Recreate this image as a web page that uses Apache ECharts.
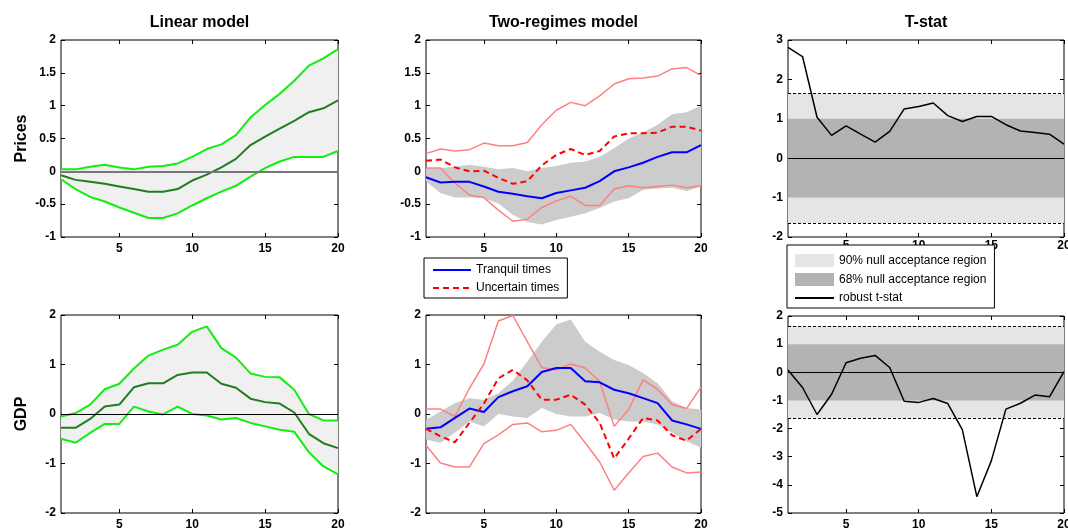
<!DOCTYPE html>
<html>
<head>
<meta charset="utf-8">
<script src="https://cdn.jsdelivr.net/npm/echarts@6/dist/echarts.min.js"></script>
<style>
  html, body { margin: 0; padding: 0; background: #fff; }
  #chart { width: 1068px; height: 529px; }
</style>
</head>
<body>
<div id="chart"></div>
<script>
// horizon (x axis categories)
const steps = [1, 2, 3, 4, 5, 6, 7, 8, 9, 10, 11, 12, 13, 14, 15, 16, 17, 18, 19, 20];
const xTicks = [5, 10, 15, 20];

// Prices - linear model
const priceLinLow  = [-0.12, -0.27, -0.39, -0.46, -0.55, -0.63, -0.71, -0.71, -0.64, -0.52, -0.41, -0.31, -0.22, -0.08, 0.05, 0.15, 0.22, 0.22, 0.22, 0.31];
const priceLinMid  = [-0.06, -0.13, -0.16, -0.19, -0.23, -0.27, -0.31, -0.31, -0.27, -0.14, -0.05, 0.06, 0.19, 0.40, 0.53, 0.65, 0.77, 0.90, 0.96, 1.08];
const priceLinHigh = [0.03, 0.03, 0.07, 0.10, 0.06, 0.03, 0.07, 0.08, 0.12, 0.22, 0.34, 0.41, 0.55, 0.82, 1.01, 1.18, 1.38, 1.61, 1.72, 1.86];

// Prices - two regimes
const priceTranquil  = [-0.09, -0.17, -0.16, -0.16, -0.23, -0.31, -0.34, -0.38, -0.41, -0.33, -0.29, -0.25, -0.15, 0.00, 0.06, 0.13, 0.22, 0.29, 0.29, 0.40];
const priceTranqLow  = [-0.15, -0.33, -0.40, -0.40, -0.41, -0.49, -0.66, -0.77, -0.81, -0.74, -0.69, -0.64, -0.56, -0.46, -0.41, -0.28, -0.26, -0.25, -0.30, -0.23];
const priceTranqHigh = [0.05, 0.05, 0.07, 0.10, 0.07, 0.03, 0.05, 0.00, 0.05, 0.08, 0.13, 0.15, 0.22, 0.35, 0.50, 0.59, 0.71, 0.87, 0.90, 1.00];
const priceUncertain = [0.16, 0.18, 0.06, 0.00, 0.01, -0.10, -0.19, -0.15, 0.09, 0.25, 0.34, 0.25, 0.31, 0.53, 0.58, 0.58, 0.59, 0.68, 0.68, 0.62];
const priceUncLow    = [0.05, 0.05, -0.18, -0.36, -0.40, -0.59, -0.76, -0.73, -0.55, -0.45, -0.38, -0.52, -0.52, -0.27, -0.22, -0.25, -0.23, -0.21, -0.25, -0.22];
const priceUncHigh   = [0.27, 0.34, 0.31, 0.33, 0.43, 0.39, 0.39, 0.44, 0.71, 0.93, 1.05, 1.00, 1.15, 1.33, 1.41, 1.42, 1.45, 1.56, 1.58, 1.46];
const priceTstat     = [2.81, 2.58, 1.04, 0.58, 0.82, 0.61, 0.41, 0.68, 1.25, 1.31, 1.40, 1.08, 0.93, 1.06, 1.06, 0.85, 0.69, 0.65, 0.61, 0.36];

// GDP - linear model
const gdpLinLow  = [-0.50, -0.58, -0.38, -0.20, -0.20, 0.15, 0.05, -0.01, 0.15, 0.00, -0.03, -0.11, -0.08, -0.18, -0.25, -0.32, -0.36, -0.77, -1.06, -1.22];
const gdpLinMid  = [-0.28, -0.28, -0.10, 0.15, 0.19, 0.54, 0.62, 0.62, 0.79, 0.84, 0.84, 0.61, 0.53, 0.31, 0.24, 0.21, 0.03, -0.40, -0.59, -0.69];
const gdpLinHigh = [-0.05, 0.02, 0.19, 0.50, 0.61, 0.92, 1.18, 1.30, 1.40, 1.66, 1.77, 1.33, 1.14, 0.82, 0.75, 0.74, 0.49, 0.00, -0.13, -0.13];

// GDP - two regimes
const gdpTranquil  = [-0.30, -0.27, -0.08, 0.11, 0.04, 0.34, 0.46, 0.56, 0.85, 0.93, 0.93, 0.66, 0.64, 0.49, 0.42, 0.32, 0.22, -0.13, -0.21, -0.30];
const gdpTranqLow  = [-0.52, -0.58, -0.38, -0.15, -0.25, 0.00, -0.05, -0.08, 0.12, 0.00, -0.05, -0.05, 0.02, -0.11, -0.15, -0.15, -0.21, -0.38, -0.55, -0.68];
const gdpTranqHigh = [-0.12, 0.05, 0.22, 0.32, 0.29, 0.42, 0.67, 1.06, 1.46, 1.81, 1.91, 1.46, 1.26, 1.09, 0.99, 0.83, 0.62, 0.26, 0.12, 0.09];
const gdpUncertain = [-0.30, -0.45, -0.57, -0.18, 0.21, 0.72, 0.89, 0.68, 0.29, 0.29, 0.39, 0.19, -0.18, -0.90, -0.50, -0.08, -0.13, -0.43, -0.54, -0.30];
const gdpUncLow    = [-0.63, -0.99, -1.07, -1.07, -0.60, -0.42, -0.21, -0.18, -0.36, -0.33, -0.21, -0.58, -0.97, -1.54, -1.19, -0.86, -0.79, -1.07, -1.19, -1.17];
const gdpUncHigh   = [0.10, 0.10, -0.05, 0.52, 1.01, 1.88, 1.99, 1.46, 0.94, 0.89, 1.01, 0.93, 0.66, -0.25, 0.09, 0.69, 0.50, 0.19, 0.11, 0.54];
const gdpTstat     = [0.08, -0.54, -1.50, -0.78, 0.34, 0.50, 0.60, 0.17, -1.03, -1.07, -0.93, -1.11, -2.04, -4.42, -3.14, -1.31, -1.10, -0.81, -0.87, 0.02];

// null acceptance regions for the t-stat
const nullBand90 = [-1.645, 1.645];
const nullBand68 = [-1, 1];

const titles = ['Linear model', 'Two-regimes model', 'T-stat'];
const rowNames = ['Prices', 'GDP'];

const FONT = 'Liberation Sans, Arial, sans-serif';

// plot boxes (px)
const boxes = [
  { left: 61,  top: 40,  width: 277, height: 197 },
  { left: 426, top: 40,  width: 275, height: 197 },
  { left: 788, top: 40,  width: 276, height: 197 },
  { left: 61,  top: 315, width: 277, height: 198 },
  { left: 426, top: 315, width: 275, height: 198 },
  { left: 788, top: 316, width: 276, height: 197 }
];
const yRanges = [[-1, 2, 0.5], [-1, 2, 0.5], [-2, 3, 1], [-2, 2, 1], [-2, 2, 1], [-5, 2, 1]];

const isTick = (idx) => xTicks.indexOf(steps[idx]) >= 0;

const grid = [], xAxis = [], yAxis = [], series = [];

boxes.forEach((b, i) => {
  grid.push(Object.assign({
    show: true, borderColor: '#000', borderWidth: 1, backgroundColor: 'transparent',
    containLabel: false, outerBoundsMode: 'none'
  }, b));
  ['bottom', 'top'].forEach((pos) => {
    xAxis.push({
      type: 'category', gridIndex: i, position: pos, data: steps, boundaryGap: false,
      axisLine: { show: false, onZero: false },
      axisTick: { show: true, inside: true, length: 4, interval: (idx) => isTick(idx), lineStyle: { color: '#000' } },
      axisLabel: { show: pos === 'bottom', interval: (idx) => isTick(idx), margin: i === 2 ? 3 : 6,
        color: '#000', fontWeight: 'bold', fontSize: 12, fontFamily: FONT },
      splitLine: { show: false }
    });
  });
  const r = yRanges[i];
  ['left', 'right'].forEach((pos) => {
    const ax = {
      type: 'value', gridIndex: i, position: pos, min: r[0], max: r[1], interval: r[2],
      axisLine: { show: false, onZero: false },
      axisTick: { show: true, inside: true, length: 4, lineStyle: { color: '#000' } },
      axisLabel: { show: pos === 'left', margin: 5, color: '#000', fontWeight: 'bold', fontSize: 12, fontFamily: FONT },
      splitLine: { show: false }
    };
    if (pos === 'left' && i % 3 === 0) {
      ax.name = rowNames[i / 3];
      ax.nameLocation = 'middle';
      ax.nameGap = 31;
      ax.nameTextStyle = { color: '#000', fontSize: 16, fontWeight: 'bold', fontFamily: FONT };
    }
    yAxis.push(ax);
  });
});

function ax(i) { return { xAxisIndex: 2 * i, yAxisIndex: 2 * i }; }

function band(i, low, high, color) {
  const diff = high.map((h, k) => +(h - low[k]).toFixed(3));
  series.push(Object.assign({
    name: 'band-base-' + i, type: 'line', stack: 'band' + i, stackStrategy: 'all',
    data: low, symbol: 'none', silent: true, lineStyle: { opacity: 0 }
  }, ax(i)));
  series.push(Object.assign({
    name: 'band-' + i, type: 'line', stack: 'band' + i, stackStrategy: 'all',
    data: diff, symbol: 'none', silent: true, lineStyle: { opacity: 0 },
    areaStyle: { color: color, opacity: 1 }
  }, ax(i)));
}

function line(i, name, data, color, width, type, extra) {
  series.push(Object.assign({
    name: name, type: 'line', data: data, symbol: 'none', color: color,
    lineStyle: { color: color, width: width, type: type || 'solid' }
  }, ax(i), extra || {}));
}

function zeroLine(color, width) {
  return {
    markLine: {
      silent: true, symbol: ['none', 'none'], label: { show: false },
      lineStyle: { color: color, width: width, type: 'solid' },
      data: [{ yAxis: 0 }]
    }
  };
}

// linear model panels
[[0, priceLinLow, priceLinMid, priceLinHigh, '#777'], [3, gdpLinLow, gdpLinMid, gdpLinHigh, '#000']].forEach((p) => {
  const i = p[0];
  band(i, p[1], p[3], '#f0f0f0');
  line(i, 'lin-mid-' + i, p[2], '#1e7d1e', 2, 'solid', zeroLine(p[4], i === 0 ? 2 : 1));
  line(i, 'lin-low-' + i, p[1], '#11ee11', 2);
  line(i, 'lin-high-' + i, p[3], '#11ee11', 2);
});

// two-regimes panels
[[1, priceTranquil, priceTranqLow, priceTranqHigh, priceUncertain, priceUncLow, priceUncHigh],
 [4, gdpTranquil, gdpTranqLow, gdpTranqHigh, gdpUncertain, gdpUncLow, gdpUncHigh]].forEach((p) => {
  const i = p[0];
  band(i, p[2], p[3], '#cccccc');
  line(i, 'unc-low-' + i, p[5], '#ff8080', 1.5);
  line(i, 'unc-high-' + i, p[6], '#ff8080', 1.5);
  line(i, 'Tranquil times', p[1], '#0000ff', 2);
  line(i, 'Uncertain times', p[4], '#ff0000', 2, [6, 4]);
});

// t-stat panels
[[2, priceTstat], [5, gdpTstat]].forEach((p) => {
  const i = p[0];
  series.push(Object.assign({
    name: '90% null acceptance region', type: 'line', data: [], color: '#e5e5e5', symbol: 'none',
    markArea: { silent: true, itemStyle: { color: '#e5e5e5' }, data: [[{ yAxis: nullBand90[0] }, { yAxis: nullBand90[1] }]] },
    markLine: {
      silent: true, symbol: ['none', 'none'], label: { show: false },
      lineStyle: { color: '#000', width: 1, type: [3, 2] },
      data: [{ yAxis: nullBand90[0] }, { yAxis: nullBand90[1] }]
    }
  }, ax(i)));
  series.push(Object.assign({
    name: '68% null acceptance region', type: 'line', data: [], color: '#b3b3b3', symbol: 'none',
    markArea: { silent: true, itemStyle: { color: '#b3b3b3' }, data: [[{ yAxis: nullBand68[0] }, { yAxis: nullBand68[1] }]] }
  }, ax(i)));
  line(i, 'robust t-stat', p[1], '#000', 1.5, 'solid', zeroLine('#000', 1));
});

const legendText = { color: '#000', fontSize: 12, fontFamily: FONT };

const option = {
  animation: false,
  backgroundColor: '#fff',
  grid: grid,
  xAxis: xAxis,
  yAxis: yAxis,
  legend: [
    {
      orient: 'vertical', left: 424, top: 258, padding: [6, 8, 4, 8], itemGap: 6,
      itemWidth: 38, itemHeight: 12, selectedMode: false,
      borderColor: '#000', borderWidth: 1, backgroundColor: '#fff',
      textStyle: legendText,
      itemStyle: { opacity: 0 },
      data: ['Tranquil times', 'Uncertain times']
    },
    {
      orient: 'vertical', left: 787, top: 245, padding: [9, 8, 4, 7], itemGap: 6,
      itemWidth: 39, itemHeight: 13, selectedMode: false,
      borderColor: '#000', borderWidth: 1, backgroundColor: '#fff',
      textStyle: legendText,
      data: [
        { name: '90% null acceptance region', icon: 'rect' },
        { name: '68% null acceptance region', icon: 'rect' },
        { name: 'robust t-stat', itemStyle: { opacity: 0 } }
      ]
    }
  ],
  graphic: titles.map((t, k) => ({
    type: 'text',
    x: boxes[k].left + boxes[k].width / 2,
    y: 23,
    style: { text: t, fill: '#000', font: 'bold 16px ' + FONT, textAlign: 'center', textVerticalAlign: 'middle' }
  })),
  series: series
};

const chart = echarts.init(document.getElementById('chart'));
chart.setOption(option);
</script>
</body>
</html>
